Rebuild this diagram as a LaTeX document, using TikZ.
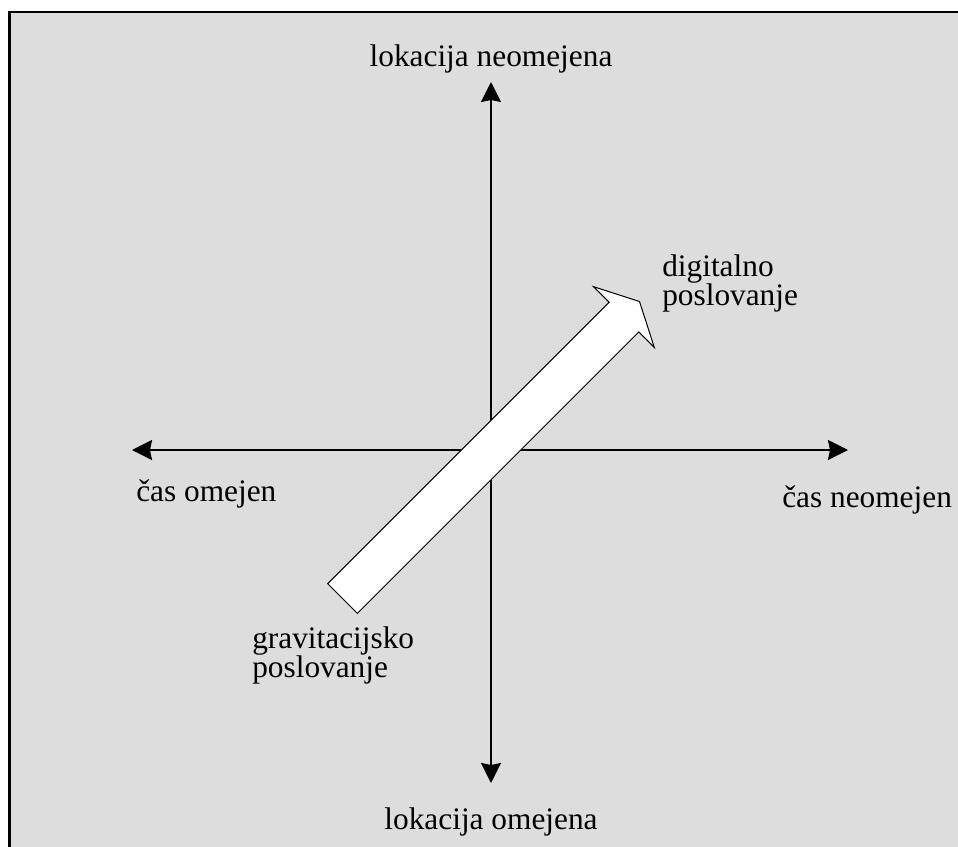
\documentclass[tikz,border=0pt]{standalone}
\usepackage{fontspec}
\setmainfont{Liberation Serif}
\usetikzlibrary{arrows.meta}

\definecolor{panelgray}{HTML}{DDDDDD}

\begin{document}
\begin{tikzpicture}[
    x=0.75pt, y=-0.75pt,
    axis/.style={line width=1.5pt, black,
                 -{Stealth[length=15pt, width=15pt, inset=1.5pt]}},
    bigarrow/.style={draw=black, line width=0.75pt, fill=white, line join=miter},
    lbl/.style={font=\fontsize{23.5}{22}\selectfont, inner sep=0pt},
]

% === Frame ===
\useasboundingbox (0,0) rectangle (958,847);
\draw[line width=1.75pt, fill=panelgray] (9.5,12) rectangle (980,870);

% Axis centre
\def\cx{491}
\def\cy{450}

% --- Axis ends ---
\coordinate (o) at (\cx,\cy);
\coordinate (left) at (132,\cy);
\coordinate (right) at (848,\cy);
\coordinate (top) at (\cx,82);
\coordinate (bottom) at (\cx,783);

% --- Axes ---
\draw[axis] (o) -- (left);
\draw[axis] (o) -- (right);
\draw[axis] (o) -- (top);
\draw[axis] (o) -- (bottom);

% --- Labels ---
\node[lbl, anchor=base] (locfree) at (\cx,66) {lokacija neomejena};
\node[lbl, anchor=base] (locfix) at (\cx,829) {lokacija omejena};
\node[lbl, anchor=base west] (timefix) at (136,501) {čas omejen};
\node[lbl, anchor=base west] (timefree) at (782,507) {čas neomejen};
\node[lbl, anchor=north west, align=left] (digital) at (662,254)
    {digitalno\\poslovanje};
\node[lbl, anchor=north west, align=left] (gravity) at (252,626)
    {gravitacijsko\\poslovanje};

% --- Transition arrow ---
\begin{scope}[shift={(o)}, rotate=45]
    \draw[bigarrow] (-210,-21) -- (188,-21) -- (188,-43) -- (210,0)
        -- (188,43) -- (188,21) -- (-210,21) -- cycle;
\end{scope}

\end{tikzpicture}
\end{document}
